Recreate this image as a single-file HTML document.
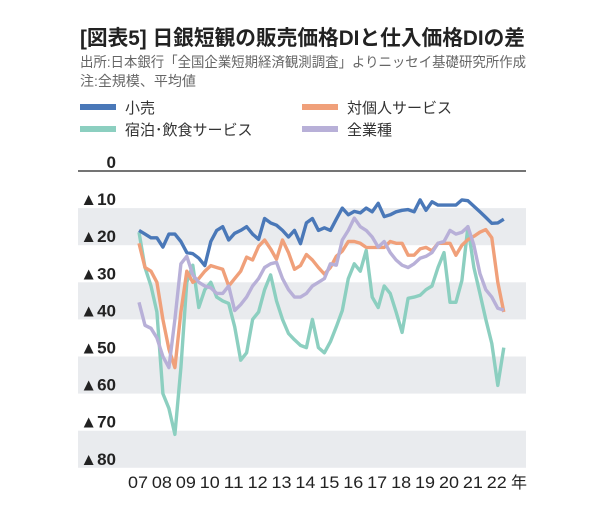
<!DOCTYPE html>
<html><head><meta charset="utf-8"><style>
body{margin:0;background:#fff;}
svg{display:block;font-family:"Liberation Sans","Noto Sans CJK JP",sans-serif;}
</style></head><body>
<svg id="chart" width="600" height="520" viewBox="0 0 600 520" xmlns="http://www.w3.org/2000/svg">
<text x="80" y="45" font-size="21" font-weight="bold" fill="#222" textLength="445" lengthAdjust="spacingAndGlyphs">[図表5] 日銀短観の販売価格DIと仕入価格DIの差</text>
<text x="80" y="67" font-size="14" fill="#666" textLength="446" lengthAdjust="spacingAndGlyphs">出所:日本銀行「全国企業短期経済観測調査」よりニッセイ基礎研究所作成</text>
<text x="80" y="86" font-size="14" fill="#666">注:全規模、平均値</text>
<g>
<g><rect x="80" y="104" width="36" height="6" fill="#4a78b8"/><text x="125" y="113" font-size="15" fill="#333">小売</text></g>
<g><rect x="302" y="104" width="36" height="6" fill="#f0a07a"/><text x="347" y="113" font-size="15" fill="#333">対個人サービス</text></g>
<g><rect x="80" y="126" width="36" height="6" fill="#8ccfc0"/><text x="125" y="135" font-size="15" fill="#333">宿泊･飲食サービス</text></g>
<g><rect x="302" y="126" width="36" height="6" fill="#b8b0d8"/><text x="347" y="135" font-size="15" fill="#333">全業種</text></g>
</g>
<g id="plot"></g>
</svg>
<script>
const years = ["07","08","09","10","11","12","13","14","15","16","17","18","19","20","21","22"];
const yTicks = [0,10,20,30,40,50,60,70,80];
const retail = [16,17,18,18,20.5,17,17,19,22,22.3,23.5,25.5,19,16,15,18.6,16.8,16,15,17,18.4,12.8,14,14.6,16,17.8,16,19.6,14,12.8,16,15.3,16,13,10,11.8,10.9,11.3,10,11,8.7,12.3,11.8,11,10.6,10.4,11,7.8,10.6,8.3,9.2,9.2,9.2,9.2,7.8,8,9.5,11,12.5,14.1,14,13];
const personal = [19.5,26,27,30,40,48,53,38,27,30,29,27,25.5,26,26.5,31,29,27,23.2,24,20.3,18.6,21,23.8,18.6,22,26.5,25.5,22.5,24,26,27.8,26,23,21.6,19,19,19.5,20.6,20.6,20.6,20.6,19,19.5,19.5,22.7,22.7,21,20.6,21.5,19.5,19.5,19.5,22.7,20,18.5,17.6,16.5,15.8,18,30,38];
const lodging = [16.5,26,31,38,60,64,71,53,30,25.4,36.8,32,30,34,35,35.7,42,51,49,40,38,32,28,35,40,43.8,45.5,47,47.6,40,47.6,49,46,42,37.6,29,25,27,21.4,34,36.8,31,33,38,43.5,34.3,34,33.5,32,31,26,22,35.4,35.4,29.5,15,26,33,40,46.5,57.8,47.6];
const allInd = [35.4,41.6,42.4,45,50,53,40,25,23,28,30,31,31.5,33,33,31,37.6,36,34,31,29,26,25,24.6,29,32,34,34,33,31,30,29,25,25.4,18.6,16,12.7,15,16,17.8,20.5,19,22,24,25.4,26,25,23.5,23,22,19.5,19,16,17,16.5,15,20,27.6,32,34,37,37.5];

const NS="http://www.w3.org/2000/svg";
const plot=document.getElementById('plot');
const x0=139, dx=5.98, left=78, right=526;
function xs(i){return x0+i*dx;}
function ys(v){return 171+v*3.71;}
function mk(tag,attrs){const e=document.createElementNS(NS,tag);for(const k in attrs)e.setAttribute(k,attrs[k]);plot.appendChild(e);return e;}
for(let k=1;k<yTicks.length-1;k+=2){
  const r=mk('rect',{x:left,y:ys(yTicks[k]),width:right-left,height:ys(yTicks[k+1])-ys(yTicks[k]),fill:'#e9ebee'});
  
  
}
const zl=mk('line',{x1:left,x2:right,y1:ys(0),y2:ys(0),stroke:'#222','stroke-width':1.2});


yTicks.forEach(v=>{
  const t=mk('text',{x:116,y:ys(v)-3,'text-anchor':'end','font-size':17,'font-weight':'bold',fill:'#222'});
  t.textContent=v===0?'0':'▲'+v;
  
  
});
years.forEach((y,i)=>{
  const t=mk('text',{x:xs(i*4)-1,y:488,'text-anchor':'middle','font-size':17,fill:'#222',textLength:20,lengthAdjust:'spacingAndGlyphs'});
  t.textContent=y;
  
  
});
const yr=mk('text',{x:519,y:488,'text-anchor':'middle','font-size':16,fill:'#222'});
yr.textContent='年';


function line(data,color,name){
  const p=mk('polyline',{points:data.map((v,i)=>xs(i).toFixed(1)+','+ys(v).toFixed(1)).join(' '),fill:'none',stroke:color,'stroke-width':3.4,'stroke-linejoin':'round'});
  
  
}
line(lodging,'#8ccfc0','line-lodging-food');
line(personal,'#f0a07a','line-personal-services');
line(allInd,'#b8b0d8','line-all-industries');
line(retail,'#4a78b8','line-retail');
</script>
</body></html>
